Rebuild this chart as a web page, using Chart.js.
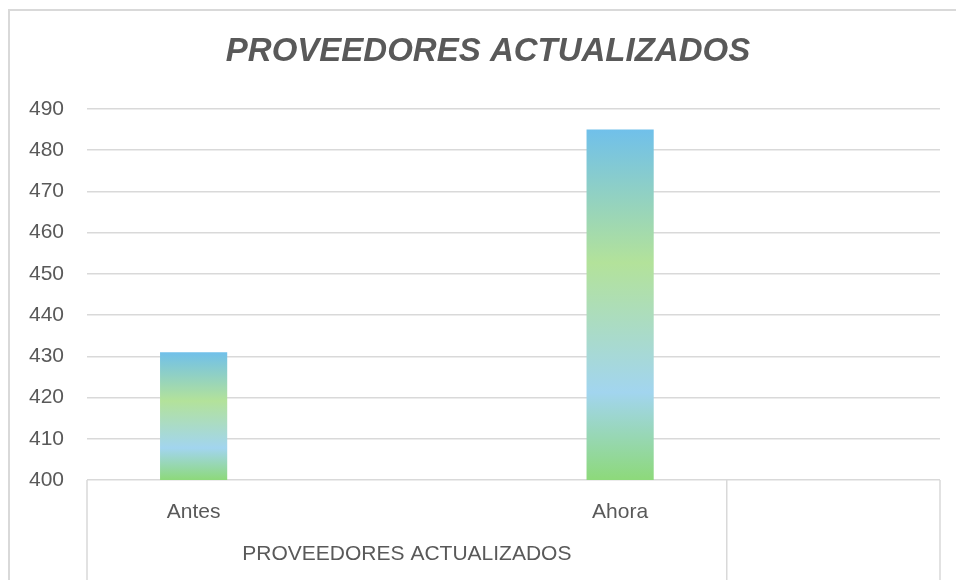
<!DOCTYPE html>
<html>
<head>
<meta charset="utf-8">
<script src="https://cdn.jsdelivr.net/npm/chart.js@4"></script>
<style>
  html, body { margin: 0; padding: 0; background: #fff; }
  #wrap { width: 956px; height: 580px; position: relative; }
</style>
</head>
<body>
<div id="wrap"><canvas id="myChart" width="956" height="580"></canvas></div>
<script>
// data
const chartTitle = 'PROVEEDORES ACTUALIZADOS';
const categories = ['Antes', '', 'Ahora', ''];
const values = [431, null, 485, null];
const groupLabels = ['PROVEEDORES ACTUALIZADOS', ''];
const groupSpans = [3, 1];
const yMin = 400;
const yMax = 490;
const yStep = 10;

const gridColor = '#d9d9d9';
const textColor = '#595959';
const fontFamily = '"Liberation Sans", Arial, sans-serif';

// bar gradient, top -> bottom of each bar
const barStops = [
  [0, '#70c0ea'],
  [0.38, '#b3e29a'],
  [0.75, '#a2d5ef'],
  [1, '#8dd97a'],
];

function barFill(context) {
  const chart = context.chart;
  const y = chart.scales.y;
  if (!y || !chart.chartArea || context.raw == null) return barStops[0][1];
  const top = y.getPixelForValue(context.raw);
  const bot = y.getPixelForValue(yMin);
  const g = chart.ctx.createLinearGradient(0, top, 0, bot);
  barStops.forEach(s => g.addColorStop(s[0], s[1]));
  return g;
}

// frame, title, multi-level category separators + group labels
const groupAxisPlugin = {
  id: 'groupAxis',
  afterDraw(chart) {
    const ctx = chart.ctx;
    const x = chart.scales.x;
    const area = chart.chartArea;
    const H = chart.height;
    ctx.save();
    // outer frame (top + left)
    ctx.strokeStyle = gridColor;
    ctx.lineWidth = 2;
    ctx.beginPath();
    ctx.moveTo(9, H);
    ctx.lineTo(9, 10);
    ctx.lineTo(chart.width, 10);
    ctx.stroke();

    // title
    ctx.fillStyle = textColor;
    ctx.font = 'italic bold 33px ' + fontFamily;
    ctx.textAlign = 'center';
    ctx.textBaseline = 'middle';
    ctx.fillText(chartTitle, 488, 52);

    const half = (x.getPixelForValue(1) - x.getPixelForValue(0)) / 2;
    let idx = 0;
    const bounds = [x.getPixelForValue(0) - half];
    groupSpans.forEach(n => {
      idx += n;
      bounds.push(x.getPixelForValue(idx - 1) + half);
    });
    ctx.lineWidth = 1.5;
    ctx.beginPath();
    bounds.forEach(b => {
      ctx.moveTo(b, area.bottom);
      ctx.lineTo(b, H);
    });
    ctx.stroke();

    ctx.font = '21px ' + fontFamily;
    groupLabels.forEach((lab, i) => {
      if (!lab) return;
      ctx.fillText(lab, (bounds[i] + bounds[i + 1]) / 2, 554);
    });
    ctx.restore();
  }
};

const context = document.getElementById('myChart').getContext('2d');
const myChart = new Chart(context, {
  type: 'bar',
  data: {
    labels: categories,
    datasets: [
      {
        label: chartTitle,
        data: values,
        backgroundColor: barFill,
        borderWidth: 0,
        categoryPercentage: 1,
        barPercentage: 0.315,
      },
    ],
  },
  options: {
    responsive: false,
    maintainAspectRatio: false,
    animation: false,
    layout: { padding: { left: 0, right: 16, top: 109, bottom: 0 } },
    plugins: {
      legend: { display: false },
      tooltip: { enabled: false },
      title: { display: false },
    },
    scales: {
      x: {
        grid: { display: false },
        border: { display: false },
        ticks: {
          color: textColor,
          font: { family: fontFamily, size: 21 },
          padding: 12,
          maxRotation: 0,
          autoSkip: false,
        },
        afterFit(scale) { scale.height = 100; },
      },
      y: {
        min: yMin,
        max: yMax,
        grid: { color: gridColor, lineWidth: 1.5, drawTicks: false },
        border: { display: false },
        ticks: {
          stepSize: yStep,
          color: textColor,
          font: { family: fontFamily, size: 21 },
          padding: 23,
        },
        afterFit(scale) { scale.width = 87; },
      },
    },
  },
  plugins: [groupAxisPlugin],
});
</script>
</body>
</html>
